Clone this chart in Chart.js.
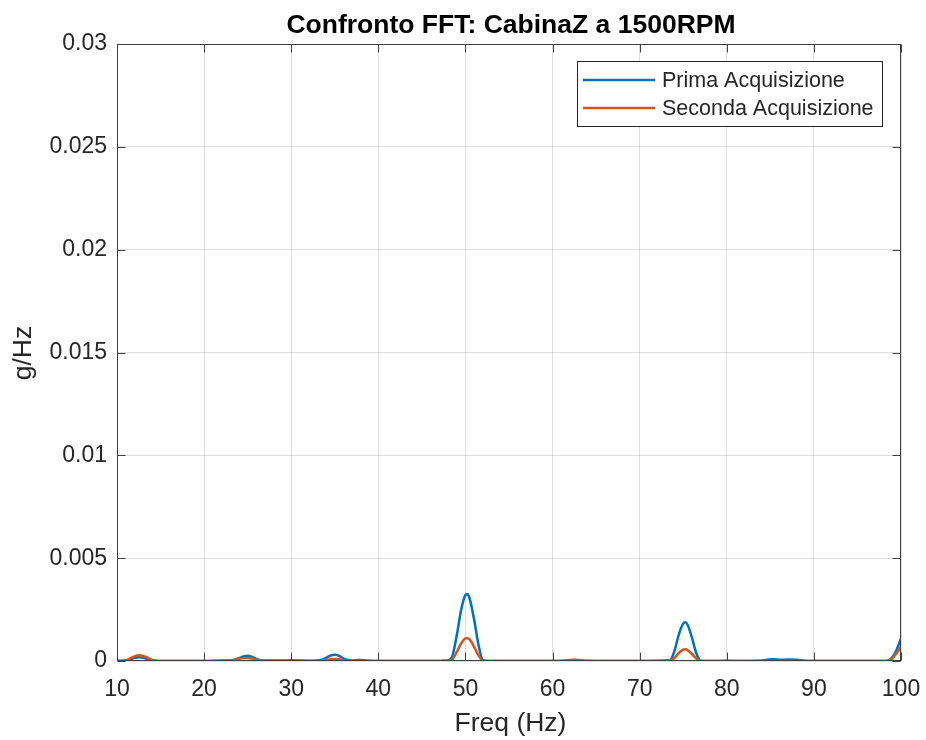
<!DOCTYPE html>
<html>
<head>
<meta charset="utf-8">
<script src="https://cdn.jsdelivr.net/npm/chart.js@4.4.1/dist/chart.umd.min.js"></script>
<style>
html,body{margin:0;padding:0;background:#fff;}
canvas{display:block;}
</style>
</head>
<body>
<canvas id="c" width="926" height="740"></canvas>
<script>
const chartTitle = 'Confronto FFT: CabinaZ a 1500RPM';
const xAxisTitle = 'Freq (Hz)';
const yAxisTitle = 'g/Hz';
const seriesNames = ['Prima Acquisizione', 'Seconda Acquisizione'];
const xTickLabels = ['10','20','30','40','50','60','70','80','90','100'];
const yTickLabels = ['0','0.005','0.01','0.015','0.02','0.025','0.03'];

const freq = [
  10, 10.5, 11, 11.5, 12, 12.5, 13, 13.5, 14, 14.5,
  15, 16, 18, 20, 21, 22, 23, 23.5, 24, 24.5,
  25, 25.5, 26, 26.5, 27, 28, 29, 30, 31, 32,
  33, 33.5, 34, 34.5, 35, 35.5, 36, 36.5, 37, 37.5,
  38, 38.5, 39, 40, 42, 45, 47, 47.5, 48, 48.5,
  49, 49.5, 50, 50.25, 50.5, 51, 51.5, 52, 52.5, 53,
  55, 58, 60, 61, 61.5, 62, 62.5, 63, 63.5, 64,
  66, 70, 72, 72.5, 73, 73.5, 74, 74.5, 75, 75.25,
  75.5, 76, 76.5, 77, 77.5, 78, 80, 82, 84, 84.5,
  85, 85.5, 86, 87, 88, 88.5, 89, 90, 92, 95,
  97, 98, 98.5, 99, 99.5, 100
];

const primaAcq = [
  0, 0, 0.00002, 0.00008, 0.00014, 0.00018, 0.00016, 0.0001, 0.00004, 0,
  0, 0, 0, 0, 0, 0.00001, 0.00002, 0.00006, 0.00014, 0.00022,
  0.00025, 0.0002, 0.0001, 0.00004, 0.00002, 0.00003, 0.00002, 0.00004, 0.00003, 0.00001,
  0.00002, 0.00006, 0.00015, 0.00026, 0.0003, 0.00025, 0.00012, 0.00005, 0.00003, 0.00004,
  0.00005, 0.00003, 0.00001, 0, 0, 0, 0, 0.00001, 0.00002, 0.00024,
  0.00124, 0.00247, 0.0032, 0.00324, 0.00301, 0.00201, 0.00078, 0.00004, 0, 0,
  0, 0, 0, 0, 0.00001, 0.00002, 0.00003, 0.00002, 0.00001, 0,
  0, 0, 0.00001, 0.00001, 0.00002, 0.00004, 0.0005, 0.0013, 0.00182, 0.00188,
  0.00176, 0.00114, 0.00038, 0.00002, 0, 0, 0.00001, 0, 0.00002, 0.00005,
  0.00008, 0.00008, 0.00006, 0.00007, 0.00006, 0.00004, 0.00001, 0, 0, 0,
  0, 0, 0.00002, 0.00018, 0.00055, 0.0011
];

const secondaAcq = [
  0.00001, 0.00001, 0.00003, 0.00012, 0.00022, 0.00028, 0.00025, 0.00016, 0.00006, 0.00001,
  0, 0, 0, 0, 0.00001, 0.00002, 0.00003, 0.00005, 0.0001, 0.00014,
  0.00015, 0.00012, 0.00006, 0.00002, 0.00001, 0, 0, 0, 0.00001, 0,
  0, 0.00002, 0.00005, 0.00009, 0.0001, 0.00008, 0.00004, 0.00001, 0, 0,
  0.00001, 0, 0, 0, 0, 0, 0, 0.00001, 0.00001, 0.00008,
  0.00043, 0.00085, 0.0011, 0.00111, 0.00104, 0.00069, 0.00027, 0.00002, 0, 0,
  0, 0, 0, 0.00001, 0.00003, 0.00005, 0.00006, 0.00005, 0.00002, 0.00001,
  0, 0, 0, 0.00001, 0.00001, 0.00002, 0.00015, 0.00039, 0.00055, 0.00057,
  0.00053, 0.00034, 0.00012, 0.00001, 0, 0, 0, 0, 0, 0,
  0.00001, 0.00001, 0.00001, 0, 0, 0, 0, 0, 0, 0,
  0, 0, 0.00001, 0.00012, 0.00038, 0.0007
];

const FONT = '"Liberation Sans", Arial, Helvetica, sans-serif';
const TEXT = '#262626';
const BLUE = '#0072BD';
const ORANGE = '#D95319';

function pts(ys) { return freq.map((f, i) => ({x: f, y: ys[i]})); }

const decorPlugin = {
  id: 'decor',
  afterDatasetsDraw(chart) {
    const ctx = chart.ctx;
    const a = chart.chartArea;
    const xs = chart.scales.x, ys = chart.scales.y;
    ctx.save();
    // box
    ctx.strokeStyle = '#404040';
    ctx.lineWidth = 1;
    const L = Math.round(a.left) + 0.5, R = Math.round(a.right) - 0.5;
    const T = Math.round(a.top) + 0.5, B = Math.round(a.bottom) - 0.5;
    ctx.strokeRect(L, T, R - L, B - T);
    // inward ticks
    ctx.beginPath();
    xs.ticks.forEach(t => {
      const px = Math.round(xs.getPixelForValue(t.value)) + 0.5;
      ctx.moveTo(px, B); ctx.lineTo(px, B - 8);
      ctx.moveTo(px, T); ctx.lineTo(px, T + 8);
    });
    ys.ticks.forEach(t => {
      const py = Math.round(ys.getPixelForValue(t.value)) + 0.5;
      ctx.moveTo(L, py); ctx.lineTo(L + 8, py);
      ctx.moveTo(R, py); ctx.lineTo(R - 8, py);
    });
    ctx.stroke();

    // legend
    const lx = 577.5, ly = 61.5, lw = 305, lh = 65;
    ctx.fillStyle = '#fff';
    ctx.fillRect(lx, ly, lw, lh);
    ctx.strokeStyle = '#262626';
    ctx.lineWidth = 1;
    ctx.strokeRect(lx, ly, lw, lh);
    const ds = chart.data.datasets;
    const rows = [80, 108];
    ctx.font = '21.5px ' + FONT;
    ctx.textBaseline = 'middle';
    ctx.textAlign = 'left';
    ds.forEach((d, i) => {
      ctx.strokeStyle = d.borderColor;
      ctx.lineWidth = 2.5;
      ctx.beginPath();
      ctx.moveTo(583, rows[i]); ctx.lineTo(655, rows[i]);
      ctx.stroke();
      ctx.fillStyle = TEXT;
      ctx.fillText(d.label, 662, rows[i] + 1);
    });

    // titles
    ctx.fillStyle = '#000';
    ctx.font = 'bold 26.5px ' + FONT;
    ctx.textAlign = 'center';
    ctx.textBaseline = 'alphabetic';
    ctx.fillText(chartTitle, 511, 33);
    ctx.fillStyle = TEXT;
    ctx.font = '26.5px ' + FONT;
    ctx.fillText(xAxisTitle, 510.5, 731);
    ctx.save();
    ctx.translate(31, 353);
    ctx.rotate(-Math.PI / 2);
    ctx.fillText(yAxisTitle, 0, 0);
    ctx.restore();
    ctx.restore();
  }
};

new Chart(document.getElementById('c'), {
  type: 'line',
  data: {
    datasets: [
      { label: seriesNames[0], data: pts(primaAcq), borderColor: BLUE, backgroundColor: BLUE,
        borderWidth: 2.5, pointRadius: 0, cubicInterpolationMode: 'monotone', order: 1 },
      { label: seriesNames[1], data: pts(secondaAcq), borderColor: ORANGE, backgroundColor: ORANGE,
        borderWidth: 2.5, pointRadius: 0, cubicInterpolationMode: 'monotone', order: 0 }
    ]
  },
  options: {
    responsive: false,
    animation: false,
    events: [],
    layout: { padding: { left: 0, right: 25, top: 44, bottom: 0 } },
    plugins: { legend: { display: false }, title: { display: false }, tooltip: { enabled: false } },
    scales: {
      x: {
        type: 'linear', min: 10, max: 100,
        afterFit(s) { s.height = 79; s.paddingLeft = 0; s.paddingRight = 0; },
        border: { display: false },
        grid: { color: 'rgba(38,38,38,0.15)', drawTicks: false, lineWidth: 1 },
        ticks: {
          stepSize: 10, padding: 15, color: TEXT, maxRotation: 0,
          font: { family: FONT, size: 23 },
          callback: (v) => xTickLabels[Math.round((v - 10) / 10)]
        }
      },
      y: {
        type: 'linear', min: 0, max: 0.03,
        afterFit(s) { s.width = 117; s.paddingTop = 0; s.paddingBottom = 0; },
        border: { display: false },
        grid: { color: 'rgba(38,38,38,0.15)', drawTicks: false, lineWidth: 1 },
        ticks: {
          stepSize: 0.005, padding: 10, color: TEXT,
          font: { family: FONT, size: 23 },
          callback: (v) => yTickLabels[Math.round(v / 0.005)]
        }
      }
    }
  },
  plugins: [decorPlugin]
});
</script>
</body>
</html>
